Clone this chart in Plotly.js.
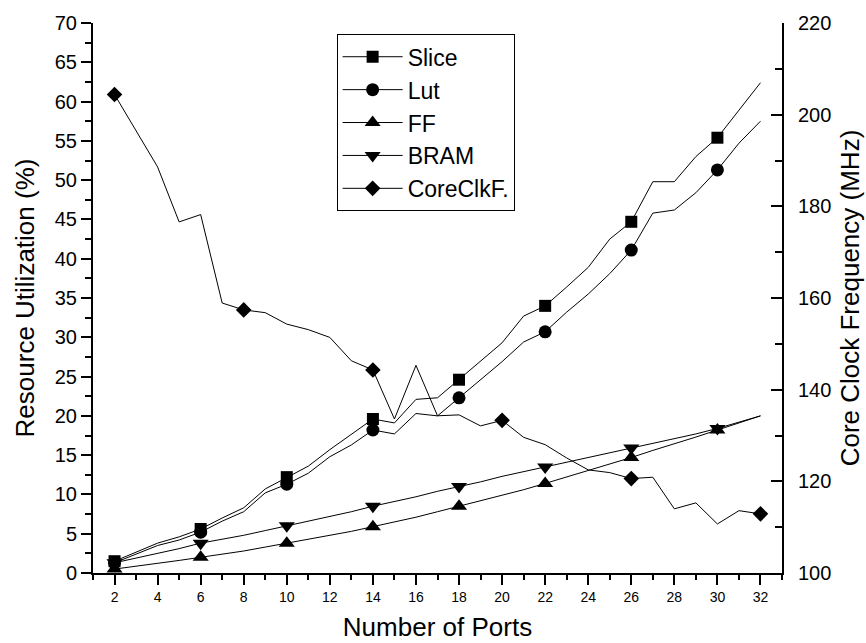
<!DOCTYPE html>
<html><head><meta charset="utf-8">
<script src="https://cdn.plot.ly/plotly-3.0.1.min.js"></script>
<style>html,body{margin:0;padding:0;background:#fff}#chart{width:866px;height:643px}</style>
</head><body><div id="chart"></div>
<script>
const ports = [2,3,4,5,6,7,8,9,10,11,12,13,14,15,16,17,18,19,20,21,22,23,24,25,26,27,28,29,30,31,32];
const slice = [1.5,2.6,3.8,4.6,5.6,7.0,8.3,10.7,12.2,13.6,15.7,17.6,19.6,19.1,22.1,22.3,24.6,26.9,29.3,32.7,34.0,36.4,38.9,42.5,44.7,49.8,49.8,53.0,55.4,58.9,62.4];
const lut = [1.3,2.4,3.5,4.2,5.2,6.6,7.8,10.2,11.3,12.7,14.8,16.3,18.2,17.7,20.3,20.0,22.3,24.6,26.9,29.4,30.7,33.2,35.5,38.1,41.1,45.8,46.2,48.4,51.3,54.7,57.5];
const ff = [0.5,0.85,1.2,1.6,2.0,2.4,2.8,3.3,3.8,4.3,4.8,5.3,5.9,6.5,7.1,7.8,8.5,9.2,9.9,10.6,11.4,12.2,13.0,13.8,14.7,15.6,16.4,17.3,18.2,19.1,20.0];
const bram = [1.3,1.9,2.5,3.1,3.8,4.3,4.8,5.4,6.0,6.6,7.2,7.8,8.5,9.1,9.7,10.4,11.0,11.6,12.3,12.9,13.5,14.1,14.7,15.3,15.9,16.5,17.1,17.7,18.4,19.2,20.0];
const coreClk = [204.4,196.5,188.6,176.6,178.2,158.9,157.4,156.8,154.3,153.1,151.4,146.3,144.3,133.6,145.3,134.3,134.5,132.1,133.3,129.6,128.0,125.1,122.5,121.9,120.6,120.9,114.0,115.3,110.7,113.6,112.9];
const resMarkPorts = [2,6,10,14,18,22,26,30];
const clkMarkPorts = [2,8,14,20,26,32];
const seriesNames = ['Slice','Lut','FF','BRAM','CoreClkF.'];

function pick(vals, marks){ return marks.map(p => vals[ports.indexOf(p)]); }

const series = [
  {name:seriesNames[0], y:slice, sym:'square', size:12, marks:resMarkPorts, axis:'y'},
  {name:seriesNames[1], y:lut, sym:'circle', size:13, marks:resMarkPorts, axis:'y'},
  {name:seriesNames[2], y:ff, sym:'triangle-up', size:14, marks:resMarkPorts, axis:'y'},
  {name:seriesNames[3], y:bram, sym:'triangle-down', size:14, marks:resMarkPorts, axis:'y'},
  {name:seriesNames[4], y:coreClk, sym:'diamond', size:12, marks:clkMarkPorts, axis:'y2'}
];
const traces = [];
series.forEach(s => {
  traces.push({x:ports, y:s.y, yaxis:s.axis, mode:'lines', line:{color:'#000', width:1}, showlegend:false, hoverinfo:'skip'});
  traces.push({x:s.marks, y:pick(s.y, s.marks), yaxis:s.axis, mode:'markers', marker:{symbol:s.sym, size:s.size, color:'#000'}, showlegend:false, name:s.name});
  traces.push({x:[null], y:[null], yaxis:s.axis, mode:'lines+markers', name:s.name, line:{color:'#000', width:1}, marker:{symbol:s.sym, size:s.size, color:'#000'}, showlegend:true});
});

const font = 'Arial, "Liberation Sans", sans-serif';
const layout = {
  width:866, height:643,
  paper_bgcolor:'#fff', plot_bgcolor:'#fff',
  font:{family:font, color:'#000'},
  margin:{l:93, r:84, t:23, b:70, pad:0},
  showlegend:true,
  xaxis:{range:[1,33], tick0:2, dtick:2, ticks:'outside', ticklen:10, tickwidth:2, tickcolor:'#000',
    showline:true, linewidth:2, linecolor:'#000', showgrid:false, zeroline:false,
    minor:{tick0:1, dtick:1, ticks:'outside', ticklen:5, tickwidth:2, tickcolor:'#000', showgrid:false},
    tickfont:{size:14}, title:{text:'Number of Ports', font:{size:26}, standoff:14}},
  yaxis:{range:[0,70], tick0:0, dtick:5, ticks:'outside', ticklen:10, tickwidth:2, tickcolor:'#000',
    showline:true, linewidth:2, linecolor:'#000', showgrid:false, zeroline:false,
    minor:{dtick:2.5, ticks:'outside', ticklen:6, tickwidth:2, tickcolor:'#000', showgrid:false},
    tickfont:{size:20}, title:{text:'Resource Utilization (%)', font:{size:26}, standoff:13}},
  yaxis2:{range:[100,220], tick0:100, dtick:20, overlaying:'y', side:'right', ticks:'inside', ticklen:11, tickwidth:2, tickcolor:'#000',
    showline:true, linewidth:2, linecolor:'#000', showgrid:false, zeroline:false, ticklabelstandoff:10,
    minor:{dtick:10, ticks:'inside', ticklen:7, tickwidth:2, tickcolor:'#000', showgrid:false},
    tickfont:{size:20}, title:{text:'Core Clock Frequency (MHz)', font:{size:26}, standoff:10}},
  legend:{x:0.3536, y:0.9795, xanchor:'left', yanchor:'top', bordercolor:'#000', borderwidth:1, bgcolor:'#fff',
    font:{size:23}, itemwidth:60, tracegroupgap:0}
};
Plotly.newPlot('chart', traces, layout, {displayModeBar:false, staticPlot:true});
</script></body></html>
